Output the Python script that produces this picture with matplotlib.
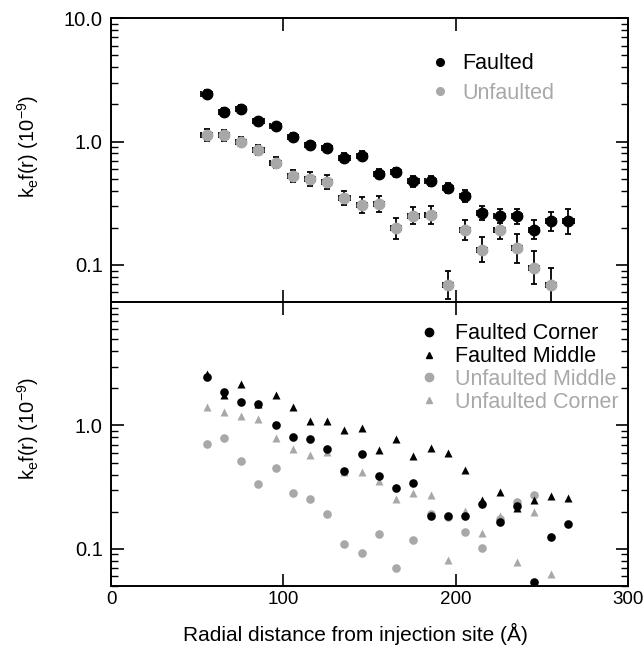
import numpy as np
import matplotlib.pyplot as plt
from matplotlib.lines import Line2D

plt.rcParams['font.family'] = ['Liberation Sans', 'DejaVu Sans']
plt.rcParams['mathtext.fontset'] = 'custom'
plt.rcParams['mathtext.rm'] = 'Liberation Sans'

GRAY = '#a8a8a8'

# radial distance (Angstrom) of each bin
r_top = [55.5, 65.5, 75.5, 85.5, 95.5, 105.5, 115.5, 125.5, 135.5, 145.5, 155.5,
         165.5, 175.5, 185.5, 195.5, 205.5, 215.5, 225.5, 235.5, 245.5, 255.5, 265.5]

# top panel: whole-cell averages with errors (errors given as log10 half widths)
faulted = [2.45, 1.73, 1.84, 1.46, 1.33, 1.09, 0.93, 0.89, 0.74, 0.77, 0.55,
           0.565, 0.475, 0.478, 0.42, 0.363, 0.262, 0.251, 0.247, 0.193, 0.225, 0.225]
faulted_err = [0.03, 0.03, 0.03, 0.03, 0.03, 0.03, 0.03, 0.03, 0.035, 0.035, 0.036,
               0.036, 0.043, 0.04, 0.037, 0.048, 0.057, 0.057, 0.064, 0.077, 0.08, 0.1]

unfaulted = [1.13, 1.12, 1.0, 0.858, 0.675, 0.528, 0.497, 0.47, 0.346, 0.305, 0.311,
             0.198, 0.25, 0.254, 0.0688, 0.193, 0.133, 0.193, 0.136, 0.095, 0.0688]
unfaulted_err = [0.05, 0.047, 0.04, 0.04, 0.047, 0.047, 0.053, 0.056, 0.057, 0.064, 0.064,
                 0.085, 0.068, 0.073, 0.115, 0.081, 0.1, 0.077, 0.12, 0.136, 0.136]
r_err = 3.0

# bottom panel: split into corner / middle regions
faulted_corner = [2.49, 1.85, 1.56, 1.49, 1.0, 0.80, 0.78, 0.64, 0.428, 0.586, 0.387,
                  0.312, 0.341, 0.186, 0.185, 0.185, 0.23, 0.164, 0.222, 0.054, 0.124, 0.159]
faulted_middle = [2.6, 1.77, 2.17, 1.5, 1.77, 1.40, 1.08, 1.08, 0.927, 0.957, 0.636,
                  0.772, 0.564, 0.66, 0.601, 0.438, 0.249, 0.291, 0.215, 0.247, 0.268, 0.257]
unfaulted_middle = [0.708, 0.787, 0.517, 0.335, 0.45, 0.281, 0.252, 0.19, 0.11, 0.092, 0.131,
                    0.0695, 0.119, 0.19, 0.18, 0.138, 0.102, 0.173, 0.24, 0.272]
unfaulted_corner = [1.40, 1.29, 1.19, 1.13, 0.787, 0.64, 0.571, 0.608, 0.417, 0.417, 0.356,
                    0.252, 0.286, 0.272, 0.0813, 0.202, 0.134, 0.184, 0.0787, 0.2, 0.063]


def log_err(vals, dec):
    v = np.array(vals)
    d = np.array(dec)
    return [v - v / 10 ** d, v * 10 ** d - v]


fig, (ax1, ax2) = plt.subplots(2, 1, figsize=(6.44, 6.48), dpi=100, sharex=True)
fig.subplots_adjust(left=0.1724, right=0.975, top=0.972, bottom=0.0957, hspace=0)

ax1.errorbar(r_top, faulted, yerr=log_err(faulted, faulted_err), xerr=r_err,
             fmt='o', ms=7.5, color='black', ecolor='black', elinewidth=1.3,
             capsize=2, capthick=1.3)
ax1.errorbar(r_top[:len(unfaulted)], unfaulted, yerr=log_err(unfaulted, unfaulted_err),
             xerr=r_err, fmt='o', ms=7.5, color=GRAY, mec=GRAY, ecolor='black',
             elinewidth=1.3, capsize=2, capthick=1.3)

ax2.plot(r_top[:len(unfaulted_corner)], unfaulted_corner, '^', ms=5.5, color=GRAY, mec='none')
ax2.plot(r_top[:len(unfaulted_middle)], unfaulted_middle, 'o', ms=6.2, color=GRAY, mec='none')
ax2.plot(r_top, faulted_middle, '^', ms=5.5, color='black', mec='none')
ax2.plot(r_top, faulted_corner, 'o', ms=6.2, color='black', mec='none')

for ax in (ax1, ax2):
    ax.set_yscale('log')
    ax.set_ylim(0.05, 10)
    ax.set_xlim(0, 300)
    ax.set_xticks([0, 100, 200, 300])
    ax.tick_params(which='both', direction='in', top=True, right=True)
    ax.tick_params(axis='x', labelsize=13.5)
    ax.tick_params(axis='y', labelsize=14.5, pad=6)
    ax.tick_params(which='major', length=9, width=1.2)
    ax.tick_params(which='minor', length=5, width=1.0)
    for s in ax.spines.values():
        s.set_linewidth(1.4)
    ax.set_ylabel(r'k$_\mathregular{e}$f(r) (10$^\mathregular{-9}$)', fontsize=14.5)

ax1.yaxis.set_label_coords(-0.135, 0.55)
ax2.yaxis.set_label_coords(-0.135, 0.555)

ax1.set_yticks([0.1, 1.0, 10.0])
ax1.set_yticklabels(['0.1', '1.0', '10.0'])
ax2.set_yticks([0.1, 1.0])
ax2.set_yticklabels(['0.1', '1.0'])
ax2.set_xlabel('Radial distance from injection site (Å)', fontsize=15)
ax2.xaxis.set_label_coords(0.472, -0.13)

top_handles = [Line2D([], [], marker='o', ls='none', ms=5.5, color='black'),
               Line2D([], [], marker='o', ls='none', ms=5.5, color=GRAY)]
leg1 = ax1.legend(top_handles, ['Faulted', 'Unfaulted'], loc='upper left',
                  bbox_to_anchor=(0.594, 0.907), frameon=False, fontsize=15.5,
                  handletextpad=0.45, labelspacing=0.4, handlelength=1.2,
                  borderaxespad=0)
for t, c in zip(leg1.get_texts(), ['black', GRAY]):
    t.set_color(c)

bot_handles = [Line2D([], [], marker='o', ls='none', ms=6, color='black'),
               Line2D([], [], marker='^', ls='none', ms=5, color='black'),
               Line2D([], [], marker='o', ls='none', ms=6, color=GRAY),
               Line2D([], [], marker='^', ls='none', ms=5, color=GRAY)]
leg2 = ax2.legend(bot_handles, ['Faulted Corner', 'Faulted Middle', 'Unfaulted Middle',
                                'Unfaulted Corner'], loc='upper left',
                  bbox_to_anchor=(0.574, 0.955), frameon=False, fontsize=15.5,
                  handletextpad=0.6, labelspacing=0.08, handlelength=1.2,
                  borderaxespad=0)
for t, c in zip(leg2.get_texts(), ['black', 'black', GRAY, GRAY]):
    t.set_color(c)

plt.savefig('out.png', dpi=100)
